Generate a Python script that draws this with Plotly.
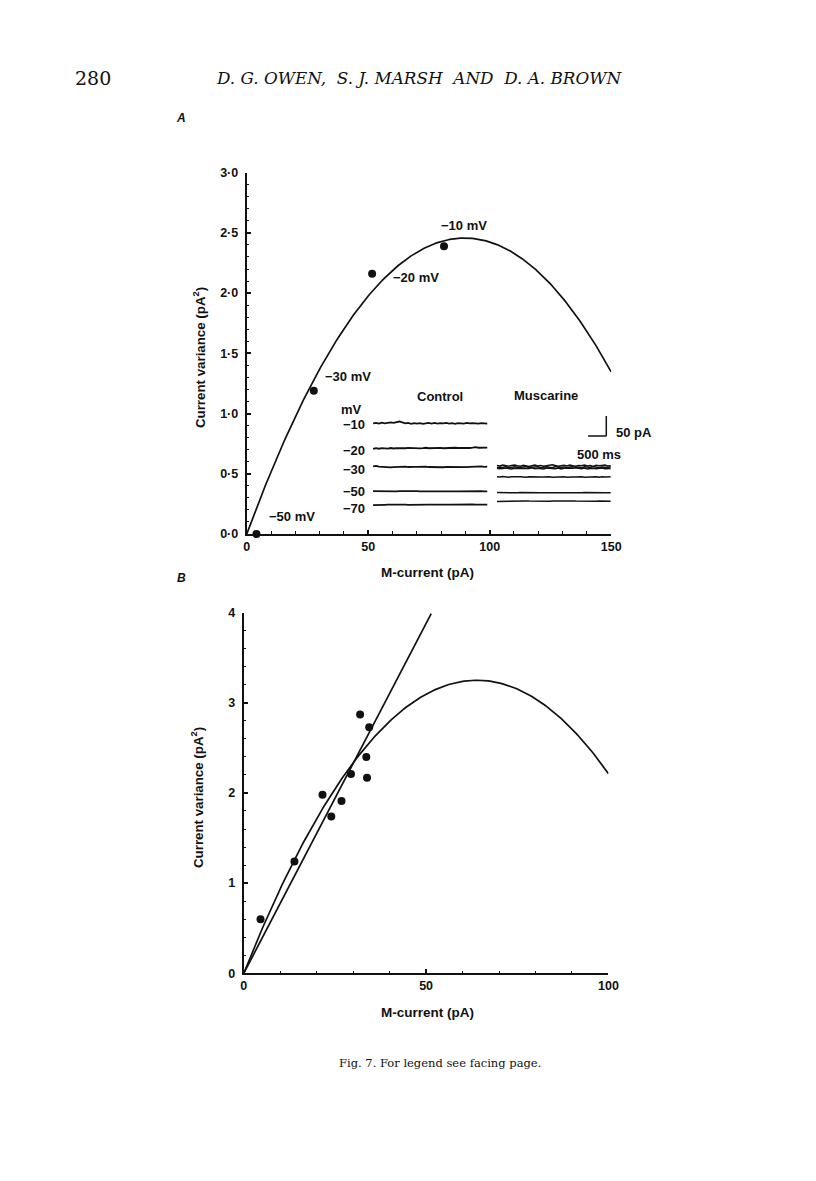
import numpy as np
import plotly.graph_objects as go

# Figure canvas; reference pixel positions are converted through the
# measured page transform (html body margin + screenshot scaling)
FW, FH = 800, 1163
SX, OXP = 0.9835, 10.0
SY, OYP = 0.988, 15.0

# ---------------- Panel A data ----------------
a_mcurrent = [4.0, 27.6, 51.6, 81.2]          # pA
a_variance = [0.0, 1.19, 2.16, 2.39]          # pA^2
a_labels = ["\u221250 mV", "\u221230 mV", "\u221220 mV", "\u221210 mV"]
a_label_x = [18.5, 41.6, 69.8, 89.6]
a_label_y = [0.144, 1.31, 2.13, 2.564]
a_unit_current = 0.0548   # pA   (parabola fit: var = i*I - I^2/N)
a_n_channels = 3273
a_xticks = [0, 50, 100, 150]
a_yticks = [0, 0.5, 1.0, 1.5, 2.0, 2.5, 3.0]
a_yticktext = ["0\u00b70", "0\u00b75", "1\u00b70", "1\u00b75", "2\u00b70", "2\u00b75", "3\u00b70"]

# inset current traces (baseline levels and hand-read wobble, x1000)
ctrl_levels = [0.918, 0.711, 0.556, 0.354, 0.243]
ctrl_labels = ["\u221210", "\u221220", "\u221230", "\u221250", "\u221270"]
ctrl_label_y = [0.905, 0.697, 0.537, 0.351, 0.213]
c10 = [0,5,-2,6,1,4,9,5,12,16,8,1,4,-3,3,-2,2,-4,1,4,-1,5,-2,3,0,4,-1,2,-3,3,1,-1,4,0,3,1,-2,3,2,-1]
c20 = [-5,1,-3,2,0,-2,3,-1,2,0,-3,1,4,2,-1,3,0,2,5,1,3,-1,2,4,1,3,0,2,5,3,2,4,1,3,6,10,5,4,7,6]
c30 = [6,9,3,1,-2,1,-3,0,2,-1,1,3,0,-2,1,2,4,1,3,0,-1,2,0,1,-2,1,0,2,-1,3,1,0,-1,2,4,1,3,5,2,4]
c50 = [2,1,0,2,-1,0,1,0,-1,1,2,0,0,-1,0,1,0,-1,0,1,1,0,-1,0,1,0,2,1,0,-1,0,1,0,0,-1,1,0,1,0,-1]
c70 = [-3,-1,1,0,-1,0,1,2,1,0,1,0,-1,0,1,0,1,0,2,1,0,1,0,-1,1,2,1,0,1,2,1,0,1,0,2,1,2,1,0,1]
ctrl_wobble = [c10, c20, c30, c50, c70]
ctrl_x_range = [52.0, 99.0]

musc_levels = [0.566, 0.555, 0.544, 0.474, 0.343, 0.272]
m_a = [3,-2,6,1,-4,2,7,0,-3,5,2,-5,1,6,-2,3,-4,0,5,8,2,-3,1,4,-2,6,0,-4,3,1,7,-1,2,-5,4,0,3,6,-2,1]
m_b = [-4,1,-2,5,-6,0,3,-1,-5,2,6,-3,0,-2,4,-6,1,3,-1,-4,5,0,-3,2,-5,1,4,-2,0,-6,3,1,-3,5,-1,-4,2,0,-2,3]
m_c = [2,-3,0,4,-1,-5,2,1,-2,3,-4,0,5,-3,1,-1,-5,3,0,2,-2,4,-4,1,0,-3,2,5,-1,-2,3,-5,0,2,-3,1,4,-2,0,-1]
m_d = [2,-1,3,0,-2,1,3,-1,2,0,-3,1,2,-1,3,0,-1,2,1,-2,0,3,-1,1,-2,2,0,-1,3,1,-2,0,2,-1,1,-3,2,0,-1,1]
m_e = [1,0,-1,0,1,0,0,-1,1,0,-1,0,1,1,0,-1,0,1,0,0,-1,1,0,0,-1,0,1,0,-1,0,1,0,0,-1,0,1,0,-1,0,0]
m_f = [-3,-2,-1,-2,0,-1,0,1,0,1,2,1,0,1,2,1,2,1,0,1,2,1,0,1,0,1,2,1,0,-1,0,1,0,-1,0,1,0,-1,-2,-1]
musc_wobble = [m_a, m_b, m_c, m_d, m_e, m_f]
musc_x_range = [103.0, 149.8]

# ---------------- Panel B data ----------------
b_mcurrent = [4.6, 13.9, 21.6, 24.0, 26.8, 29.4, 31.9, 33.6, 33.8, 34.4]
b_variance = [0.60, 1.24, 1.98, 1.74, 1.91, 2.21, 2.87, 2.40, 2.17, 2.73]
b_unit_current = 0.1017
b_n_channels = 1257
b_line_slope = 0.0776
b_line_xmax = 51.4
b_xticks = [0, 50, 100]
b_yticks = [0, 1, 2, 3, 4]

# ---------------- helpers ----------------
def px(x):
    return ((x - OXP) / SX) / FW

def py(y):
    return 1 - ((y - OYP) / SY) / FH

BLACK = "#111111"
SANS = "Liberation Sans, Arial, sans-serif"
SERIF = "DejaVu Serif, serif"

fig = go.Figure()

# Panel A parabola fit
IA = np.linspace(0, 150, 301)
varA = a_unit_current * IA - IA ** 2 / a_n_channels
fig.add_trace(go.Scatter(x=IA, y=varA, mode="lines", line=dict(color=BLACK, width=1.7),
                         xaxis="x", yaxis="y", cliponaxis=False, hoverinfo="skip"))
fig.add_trace(go.Scatter(x=a_mcurrent, y=a_variance, mode="markers",
                         marker=dict(color=BLACK, size=8), xaxis="x", yaxis="y", cliponaxis=False))

# inset traces
for lvl, wob in zip(ctrl_levels, ctrl_wobble):
    xs = np.linspace(ctrl_x_range[0], ctrl_x_range[1], len(wob))
    ys = [lvl + w / 1000 for w in wob]
    fig.add_trace(go.Scatter(x=xs, y=ys, mode="lines", line=dict(color=BLACK, width=1.8),
                             xaxis="x", yaxis="y", hoverinfo="skip"))
for lvl, wob in zip(musc_levels, musc_wobble):
    xs = np.linspace(musc_x_range[0], musc_x_range[1], len(wob))
    ys = [lvl + w / 1000 for w in wob]
    fig.add_trace(go.Scatter(x=xs, y=ys, mode="lines", line=dict(color=BLACK, width=1.5),
                             xaxis="x", yaxis="y", hoverinfo="skip"))

# Panel B
IB = np.linspace(0, 100, 201)
varB = b_unit_current * IB - IB ** 2 / b_n_channels
fig.add_trace(go.Scatter(x=IB, y=varB, mode="lines", line=dict(color=BLACK, width=1.7),
                         xaxis="x2", yaxis="y2", cliponaxis=False, hoverinfo="skip"))
fig.add_trace(go.Scatter(x=[0, b_line_xmax], y=[0, b_line_slope * b_line_xmax], mode="lines",
                         line=dict(color=BLACK, width=1.7), xaxis="x2", yaxis="y2",
                         cliponaxis=False, hoverinfo="skip"))
fig.add_trace(go.Scatter(x=b_mcurrent, y=b_variance, mode="markers",
                         marker=dict(color=BLACK, size=8), xaxis="x2", yaxis="y2", cliponaxis=False))

tickfont = dict(family=SANS, size=12.5, color=BLACK, weight="bold")
axis_common = dict(showline=True, linecolor=BLACK, linewidth=2, ticks="inside", ticklen=4,
                   tickwidth=1.5, tickcolor=BLACK, showgrid=False, zeroline=False,
                   tickfont=tickfont, fixedrange=True)
minor_common = dict(ticks="inside", ticklen=2.5, tickcolor=BLACK, tickwidth=1.3)

fig.update_layout(
    width=FW, height=FH, margin=dict(l=0, r=0, t=0, b=0),
    paper_bgcolor="white", plot_bgcolor="rgba(0,0,0,0)", showlegend=False,
    xaxis=dict(domain=[px(245.7), px(610)], range=[0, 150], anchor="y",
               tickvals=a_xticks, ticktext=[str(v) for v in a_xticks],
               minor=dict(dtick=10, **minor_common), **axis_common),
    yaxis=dict(domain=[py(534), py(172.7)], range=[0, 3.0], anchor="x",
               tickvals=a_yticks, ticktext=a_yticktext, ticklabelstandoff=4,
               minor=dict(dtick=0.1, **minor_common), **axis_common),
    xaxis2=dict(domain=[px(242.7), px(607.3)], range=[0, 100], anchor="y2",
                tickvals=b_xticks, ticktext=[str(v) for v in b_xticks],
                minor=dict(dtick=10, **minor_common), **axis_common),
    yaxis2=dict(domain=[py(973.3), py(612.7)], range=[0, 4], anchor="x2",
                tickvals=b_yticks, ticktext=[str(v) for v in b_yticks], ticklabelstandoff=4,
                minor=dict(dtick=0.2, **minor_common), **axis_common),
)

ann = []
def add_text(text, x, y, xref="paper", yref="paper", size=13, family=SANS, xanchor="center",
             yanchor="middle", angle=0, bold=False, italic=False):
    t = text
    if italic:
        t = "<i>" + t + "</i>"
    ann.append(dict(text=t, x=x, y=y, xref=xref, yref=yref, showarrow=False,
                    font=dict(family=family, size=size, color=BLACK,
                              weight="bold" if bold else "normal"),
                    xanchor=xanchor, yanchor=yanchor, textangle=angle))

# header + caption
add_text("280", px(92), py(78), family=SERIF, size=19)
add_text("D. G. OWEN,  S. J. MARSH  AND  D. A. BROWN", px(418), py(78), family=SERIF,
         size=16.8, italic=True)
add_text("Fig. 7. For legend see facing page.", px(439), py(1063), family=SERIF, size=11.5)

# panel letters
add_text("A", px(180), py(118), size=12, italic=True, bold=True)
add_text("B", px(180), py(578), size=12, italic=True, bold=True)

# axis titles
add_text("Current variance (pA<sup>2</sup>)", px(199), py(358), size=13.3, angle=-90, bold=True)
add_text("M-current (pA)", px(426), py(573), size=13.5, bold=True)
add_text("Current variance (pA<sup>2</sup>)", px(197), py(798), size=13.3, angle=-90, bold=True)
add_text("M-current (pA)", px(426), py(1013), size=13.5, bold=True)

# point labels panel A
for t, x, y in zip(a_labels, a_label_x, a_label_y):
    add_text(t, x, y, xref="x", yref="y", size=13, bold=True)

# inset labels
add_text("Control", 79.4, 1.14, xref="x", yref="y", size=13, bold=True)
add_text("Muscarine", 123.3, 1.153, xref="x", yref="y", size=13, bold=True)
add_text("mV", 43.0, 1.037, xref="x", yref="y", size=13, bold=True)
for t, y in zip(ctrl_labels, ctrl_label_y):
    add_text(t, 44.1, y, xref="x", yref="y", size=13, bold=True)
add_text("50 pA", px(613), py(433), size=13, xanchor="left", bold=True)
add_text("500 ms", px(598), py(455), size=13, bold=True)

fig.update_layout(annotations=ann)

# scale bar
fig.add_shape(type="line", x0=148.0, x1=148.0, y0=0.813, y1=0.979, xref="x", yref="y",
              line=dict(color=BLACK, width=1.5))
fig.add_shape(type="line", x0=140.5, x1=148.0, y0=0.813, y1=0.813, xref="x", yref="y",
              line=dict(color=BLACK, width=1.5))

fig.write_html("out.html")
